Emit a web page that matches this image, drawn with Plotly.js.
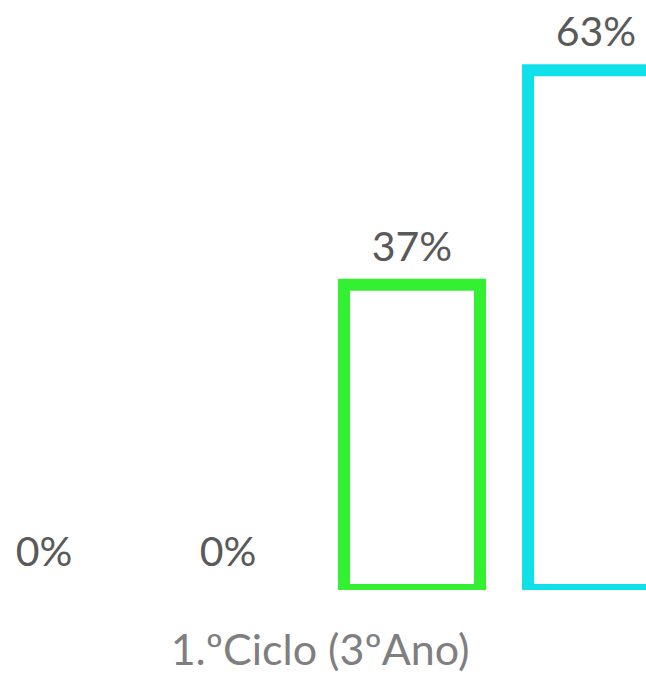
<!DOCTYPE html>
<html>
<head>
<meta charset="utf-8">
<script src="https://cdn.plot.ly/plotly-3.0.1.min.js"></script>
<style>html,body{margin:0;padding:0;background:#fff;}#chart{width:646px;height:674px;}</style>
</head>
<body>
<div id="chart"></div>
<script>
// Data
const categories = ['1.ºCiclo (3ºAno)'];
const seriesNames = ['Série 1', 'Série 2', 'Série 3', 'Série 4'];
const series1 = [0];
const series2 = [0];
const series3 = [37];
const series4 = [63];
const allSeries = [series1, series2, series3, series4];
const seriesColors = ['#4472C4', '#ED7D31', '#33F033', '#10E0EA'];

const labelFont = {family: 'Lato, "Open Sans", sans-serif', size: 41, color: '#595959'};

const traces = [];
allSeries.forEach((vals, i) => {
  traces.push({
    type: 'bar',
    name: seriesNames[i],
    x: categories,
    y: vals,
    offsetgroup: 'g' + i,
    marker: {
      color: '#ffffff',
      line: {color: seriesColors[i], width: vals.some(v => v > 0) ? 12 : 0}
    },
    hoverinfo: 'none'
  });
});
allSeries.forEach((vals, i) => {
  traces.push({
    type: 'scatter',
    mode: 'markers+text',
    name: seriesNames[i] + ' label',
    x: categories,
    y: vals,
    offsetgroup: 'g' + i,
    text: vals.map(v => v + '%'),
    textposition: 'top center',
    textfont: labelFont,
    marker: {size: 20, opacity: 0, color: 'rgba(0,0,0,0)'},
    cliponaxis: false,
    hoverinfo: 'none'
  });
});

const layout = {
  width: 646,
  height: 674,
  margin: {l: 0, r: 0, t: 0, b: 84},
  paper_bgcolor: '#ffffff',
  plot_bgcolor: '#ffffff',
  showlegend: false,
  barmode: 'group',
  bargap: 0,
  bargroupgap: 0.261,
  scattermode: 'group',
  scattergap: 0,
  xaxis: {
    type: 'category',
    range: [-0.4348, 0.4429],
    showgrid: false,
    zeroline: false,
    showline: false,
    ticks: 'outside',
    ticklen: 22,
    tickcolor: 'rgba(0,0,0,0)',
    tickfont: {family: 'Lato, "Open Sans", sans-serif', size: 43, color: '#7F7F7F'},
    fixedrange: true
  },
  yaxis: {
    range: [0, 71.5],
    showgrid: false,
    zeroline: false,
    showline: false,
    showticklabels: false,
    fixedrange: true
  }
};

Plotly.newPlot('chart', traces, layout, {displayModeBar: false, staticPlot: true});
</script>
</body>
</html>
